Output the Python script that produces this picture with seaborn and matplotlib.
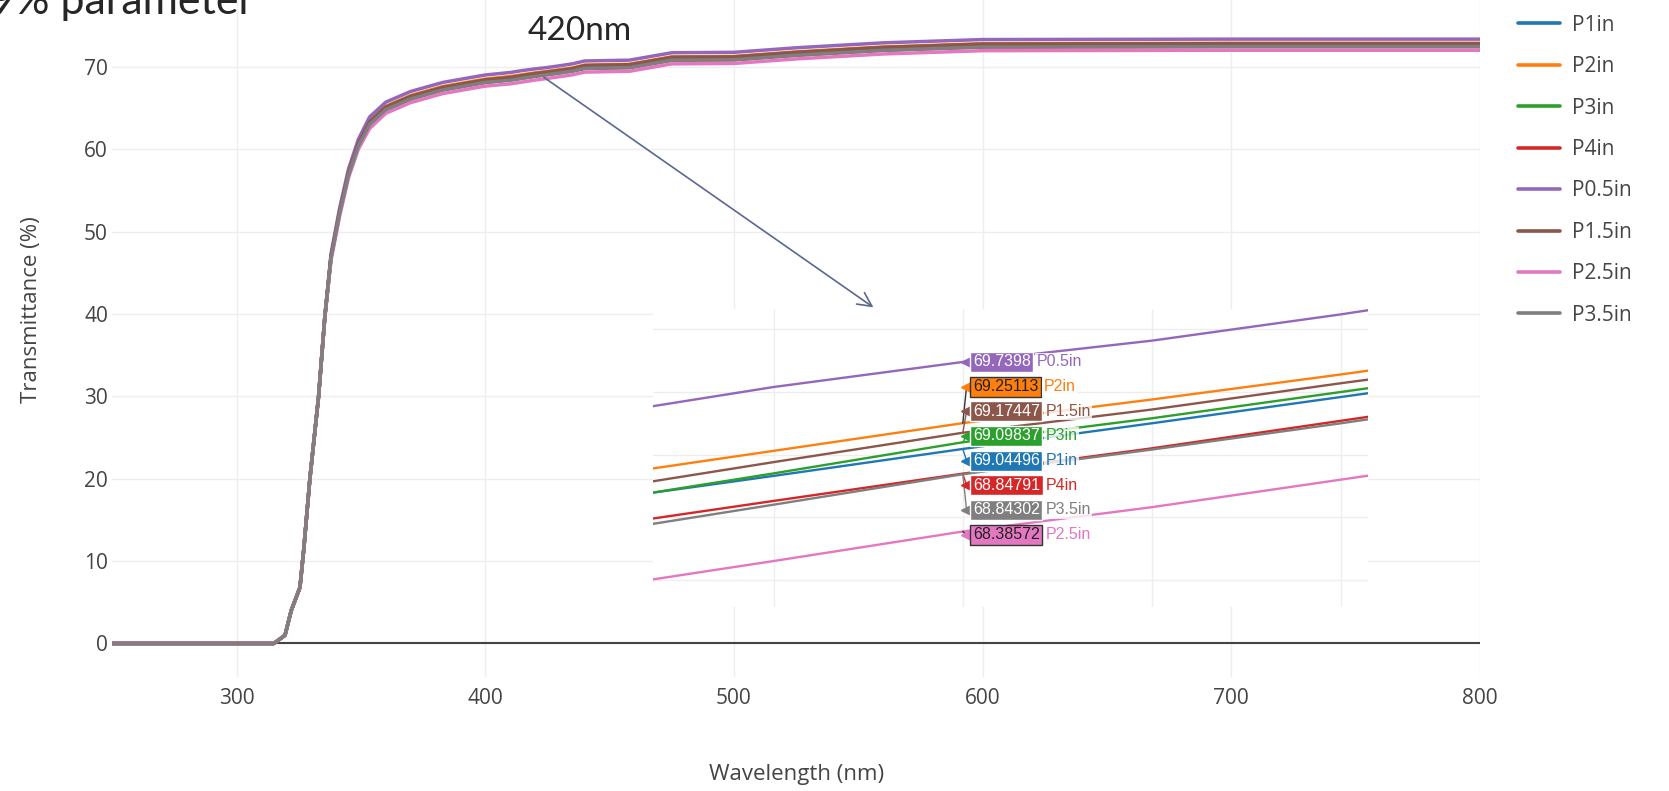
import matplotlib.pyplot as plt
import seaborn as sns
import pandas as pd

# wavelength grid (nm)
wavelength = [250, 315, 319.5, 322, 325.5, 327, 329.5, 333, 335.5, 338, 341.5, 345, 349, 353.5, 360, 370, 383, 400,
              410, 415, 420, 425, 430, 435, 440, 458, 475, 500, 525, 560, 600, 700, 800]

p1in = [0, 0, 1.0, 4.0, 6.8, 11.3, 20.0, 30.0, 39.6, 46.9, 52.4, 57.0, 60.6, 63.2, 65.0, 66.3, 67.4, 68.3,
        68.62, 68.83, 69.04496, 69.25, 69.46, 69.67, 70.0, 70.1, 71.0, 71.05, 71.6, 72.2, 72.6, 72.65, 72.65]
p2in = [0, 0, 1.0, 4.0, 6.8, 11.3, 20.0, 30.0, 39.6, 47.0, 52.5, 57.2, 60.8, 63.4, 65.2, 66.5, 67.6, 68.5,
        68.81, 69.03, 69.25113, 69.44, 69.64, 69.85, 70.2, 70.3, 71.2, 71.25, 71.8, 72.4, 72.8, 72.85, 72.85]
p3in = [0, 0, 1.0, 4.0, 6.8, 11.3, 20.0, 30.0, 39.6, 46.9, 52.4, 57.0, 60.65, 63.25, 65.05, 66.35, 67.45, 68.35,
        68.61, 68.85, 69.09837, 69.29, 69.50, 69.71, 70.05, 70.15, 71.05, 71.1, 71.65, 72.25, 72.65, 72.7, 72.7]
p4in = [0, 0, 1.0, 4.0, 6.8, 11.3, 20.0, 30.0, 39.6, 46.8, 52.3, 56.8, 60.4, 63.0, 64.8, 66.1, 67.2, 68.1,
        68.41, 68.63, 68.84791, 69.05, 69.27, 69.49, 69.8, 69.9, 70.8, 70.85, 71.4, 72.0, 72.4, 72.45, 72.45]
p05in = [0, 0, 1.0, 4.0, 6.8, 11.3, 20.0, 30.0, 39.6, 47.3, 52.9, 57.55, 61.2, 63.9, 65.7, 67.0, 68.1, 69.0,
         69.30, 69.54, 69.7398, 69.91, 70.12, 70.35, 70.7, 70.8, 71.7, 71.75, 72.3, 72.9, 73.3, 73.35, 73.35]
p15in = [0, 0, 1.0, 4.0, 6.8, 11.3, 20.0, 30.0, 39.6, 47.0, 52.5, 57.1, 60.7, 63.3, 65.1, 66.4, 67.5, 68.4,
         68.70, 68.94, 69.17447, 69.36, 69.57, 69.77, 70.15, 70.25, 71.15, 71.2, 71.75, 72.35, 72.75, 72.8, 72.8]
p25in = [0, 0, 1.0, 4.0, 6.8, 11.3, 20.0, 30.0, 39.6, 46.5, 51.9, 56.5, 60.0, 62.5, 64.35, 65.65, 66.75, 67.65,
         67.92, 68.15, 68.38572, 68.58, 68.80, 69.02, 69.35, 69.45, 70.35, 70.4, 70.95, 71.55, 71.95, 72.0, 72.0]
p35in = [0, 0, 1.0, 4.0, 6.8, 11.3, 20.0, 30.0, 39.6, 46.8, 52.25, 56.8, 60.4, 63.0, 64.8, 66.1, 67.2, 68.1,
         68.36, 68.60, 68.84302, 69.04, 69.25, 69.47, 69.8, 69.9, 70.8, 70.85, 71.4, 72.0, 72.4, 72.45, 72.45]

names = ['P1in', 'P2in', 'P3in', 'P4in', 'P0.5in', 'P1.5in', 'P2.5in', 'P3.5in']
series = [p1in, p2in, p3in, p4in, p05in, p15in, p25in, p35in]
colors = ['#1f77b4', '#ff7f0e', '#2ca02c', '#d62728', '#9467bd', '#8c564b', '#e377c2', '#7f7f7f']
# hover readout at 420 nm
hover = [69.04496, 69.25113, 69.09837, 68.84791, 69.7398, 69.17447, 68.38572, 68.84302]

rows = []
for n, s in zip(names, series):
    for w, t in zip(wavelength, s):
        rows.append((n, w, t))
df = pd.DataFrame(rows, columns=['sample', 'Wavelength', 'T'])

sns.set_style('white')
plt.rcParams['font.family'] = ['Open Sans', 'DejaVu Sans']

fig = plt.figure(figsize=(16.69, 7.91), dpi=100)
ax = fig.add_axes([0.0672, 0.1445, 0.8196, 0.8555])

sns.lineplot(data=df, x='Wavelength', y='T', hue='sample', hue_order=names, palette=colors,
             linewidth=2.5, errorbar=None, ax=ax)
ax.axhline(0, color='#444444', lw=1.5, zorder=1.5)

ax.set_xlim(250, 800)
ax.set_ylim(-4.03, 78.1)
ax.set_xticks([300, 400, 500, 600, 700, 800])
ax.set_yticks([0, 10, 20, 30, 40, 50, 60, 70])
ax.grid(True, color='#eeeeee', lw=1)
ax.set_axisbelow(True)
for sp in ax.spines.values():
    sp.set_visible(False)
ax.tick_params(length=0, labelsize=15, labelcolor='#444444')
ax.tick_params(axis='x', pad=8)
ax.tick_params(axis='y', pad=3)
ax.set_xlabel('Wavelength (nm)', fontsize=16, color='#444444')
ax.set_ylabel('Transmittance (%)', fontsize=16, color='#444444')
ax.xaxis.set_label_coords(0.5, -0.145)
ax.xaxis.label.set_va('center')
ax.yaxis.set_label_coords(-0.059, 0.543)
ax.yaxis.label.set_va('center')

handles, labels = ax.get_legend_handles_labels()
ax.get_legend().remove()
leg = fig.legend(handles, labels, loc='upper left', bbox_to_anchor=(0.907, 0.9866), frameon=False,
                 fontsize=15, handlelength=2.0, handletextpad=0.6, labelspacing=0.98,
                 borderaxespad=0, borderpad=0.2)
for t in leg.get_texts():
    t.set_color('#444444')
for h in leg.legend_handles:
    h.set_linewidth(2.6)

# arrow from the 420 nm point down to the zoomed view
ax.annotate('', xy=(557, 40.6), xytext=(422.7, 68.9),
            arrowprops=dict(arrowstyle='->,head_length=1.0,head_width=0.5', color='#5a6891', lw=1.2))

fig.text(580 / 1669, 1 - 31 / 791, '420nm', ha='center', va='center', fontsize=24, family='Lato')
fig.text(-0.006, 1 - 14 / 791, '9% parameter', ha='left', va='baseline', fontsize=31, family='Lato')

# zoomed inset around 420 nm
axin = fig.add_axes([0.3911, 0.2322, 0.4284, 0.3767])
axin.set_facecolor('white')
sns.lineplot(data=df, x='Wavelength', y='T', hue='sample', hue_order=names, palette=colors,
             linewidth=1.7, errorbar=None, legend=False, ax=axin)
axin.set_xlim(411.8, 430.71)
axin.set_ylim(67.78, 70.16)
axin.set_xticks([415, 420, 425, 430])
axin.set_yticks([68, 68.5, 69, 69.5, 70])
axin.grid(True, color='#eeeeee', lw=1)
axin.set_axisbelow(True)
axin.tick_params(length=0, labelbottom=False, labelleft=False)
axin.set_xlabel('')
axin.set_ylabel('')
for sp in axin.spines.values():
    sp.set_visible(False)

order = sorted(range(len(names)), key=lambda i: -hover[i])
step = 0.197
dark_text = {'P2in', 'P2.5in'}
for k, i in enumerate(order):
    y_lab = hover[order[0]] - k * step
    c = colors[i]
    dark = names[i] in dark_text
    edge = '#333333' if dark else 'white'
    if abs(y_lab - hover[i]) > 1e-6:
        axin.plot([420, 420.1], [hover[i], y_lab], color='#333333' if dark else c, lw=1, zorder=4)
    axin.plot([420.12], [y_lab], marker='<', ms=8, color=c, mec=c, zorder=5)
    txt = axin.text(420.27, y_lab, repr(hover[i]), ha='left', va='center', fontsize=11.5,
                    family=['Liberation Sans', 'DejaVu Sans'], color='#222222' if dark else 'white', zorder=6,
                    bbox=dict(boxstyle='square,pad=0.16', fc=c, ec=edge, lw=1))
    axin.annotate(names[i], xy=(1, 0.5), xycoords=txt, xytext=(4, 0), textcoords='offset points',
                  ha='left', va='center', fontsize=11.5, family=['Liberation Sans', 'DejaVu Sans'], color=c,
                  zorder=6, bbox=dict(boxstyle='square,pad=0.1', fc='white', ec='none', alpha=0.8))

fig.savefig('out.png', dpi=100, facecolor='white')
